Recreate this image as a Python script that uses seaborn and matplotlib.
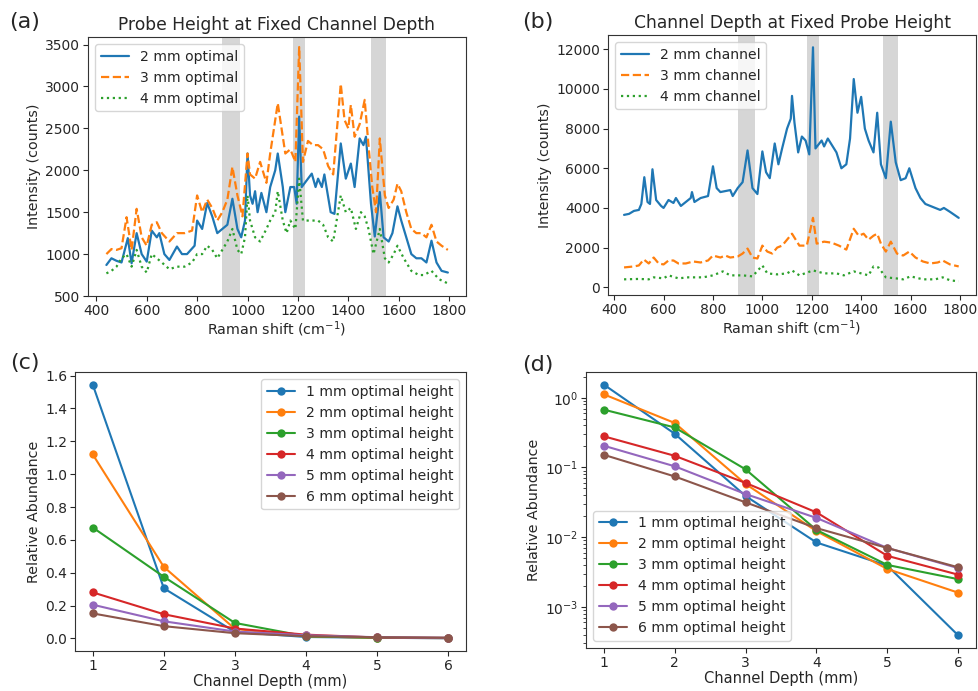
import matplotlib
matplotlib.use("Agg")
import matplotlib.pyplot as plt
import seaborn as sns
import pandas as pd
import numpy as np

# ---------------- Panel (a): probe height at fixed channel depth ----------------
a_x_2mm = [440, 460, 480, 500, 525, 540, 560, 580, 600, 620, 640, 650, 670, 690, 720, 740, 760, 790,
           800, 820, 840, 860, 880, 900, 920, 940, 960, 975, 990, 1000, 1010, 1020, 1030, 1040, 1055,
           1075, 1090, 1110, 1120, 1140, 1150, 1170, 1185, 1195, 1205, 1215, 1240, 1255, 1270, 1280,
           1295, 1305, 1330, 1345, 1370, 1390, 1410, 1425, 1445, 1460, 1470, 1490, 1505, 1525, 1540,
           1560, 1575, 1595, 1610, 1630, 1650, 1670, 1690, 1710, 1730, 1750, 1770, 1795]
a_y_2mm = [870, 950, 920, 900, 1190, 890, 1250, 1000, 910, 1280, 1200, 1250, 1000, 930, 1090, 1000, 1000, 1100,
           1400, 1300, 1610, 1450, 1250, 1300, 1350, 1660, 1300, 1200, 1400, 2200, 1700, 1600, 1750, 1500, 1730,
           1500, 1800, 2000, 2200, 1800, 1500, 1800, 1800, 1600, 2640, 1800, 1900, 1960, 1800, 1900,
           1800, 1950, 1500, 1480, 2320, 1900, 2080, 1800, 2380, 2300, 2400, 1600, 1210, 1740, 1200,
           1150, 1250, 1570, 1400, 1200, 1000, 950, 950, 900, 1160, 900, 800, 780]

a_x_3mm = [440, 460, 480, 500, 520, 540, 560, 580, 600, 620, 640, 660, 690, 720, 750, 780, 800, 820, 840,
           860, 880, 900, 920, 940, 960, 980, 1000, 1010, 1030, 1050, 1075, 1090, 1105, 1120, 1135, 1150,
           1170, 1190, 1205, 1220, 1240, 1260, 1280, 1300, 1320, 1340, 1370, 1385, 1400, 1410, 1425,
           1445, 1465, 1480, 1495, 1510, 1525, 1545, 1560, 1580, 1595, 1610, 1630, 1650, 1670, 1690,
           1710, 1730, 1750, 1770, 1795]
a_y_3mm = [1000, 1060, 1050, 1070, 1440, 1050, 1540, 1200, 1100, 1350, 1380, 1250, 1150, 1250, 1250, 1280, 1700, 1500, 1650,
           1550, 1400, 1500, 1650, 2040, 1700, 1450, 2200, 1950, 1900, 2100, 1850, 2200, 2500, 2800, 2500, 2200,
           2250, 2100, 3470, 2100, 2350, 2300, 2300, 2250, 2050, 1950, 3030, 2600, 2500, 2780, 2400,
           2550, 2840, 2300, 1800, 1500, 2380, 1700, 1550, 1650, 1840, 1750, 1500, 1300, 1250, 1250,
           1200, 1350, 1150, 1100, 1050]

a_x_4mm = [440, 460, 480, 500, 520, 540, 560, 580, 600, 620, 640, 660, 690, 720, 750, 780, 800, 820, 840,
           860, 880, 900, 920, 940, 960, 975, 990, 1000, 1010, 1030, 1050, 1075, 1090, 1110, 1120, 1140,
           1155, 1170, 1190, 1205, 1220, 1250, 1280, 1300, 1320, 1340, 1370, 1390, 1410, 1430, 1450,
           1465, 1480, 1500, 1525, 1545, 1560, 1580, 1595, 1620, 1650, 1680, 1700, 1730, 1760, 1795]
a_y_4mm = [770, 800, 850, 950, 1000, 850, 1050, 850, 780, 1000, 950, 900, 820, 850, 850, 900, 1000, 1000, 1100,
           1050, 950, 1050, 1150, 1300, 1050, 1000, 1200, 1700, 1400, 1200, 1150, 1300, 1400, 1500, 1750, 1400,
           1250, 1400, 1300, 1900, 1400, 1400, 1400, 1350, 1200, 1150, 1700, 1500, 1550, 1300, 1500,
           1450, 1300, 1000, 1300, 950, 900, 1000, 1100, 950, 800, 750, 750, 800, 700, 650]

# ---------------- Panel (b): channel depth at fixed probe height ----------------
b_x_2mm = [440, 460, 480, 500, 510, 522, 535, 545, 555, 570, 590, 600, 620, 640, 650, 670, 690, 710, 715,
           725, 750, 780, 800, 815, 830, 850, 870, 880, 900, 920, 940, 960, 980, 1000, 1015, 1030, 1050,
           1065, 1080, 1100, 1115, 1120, 1130, 1145, 1160, 1175, 1190, 1205, 1215, 1240, 1250, 1265,
           1280, 1300, 1320, 1340, 1355, 1370, 1385, 1400, 1415, 1430, 1450, 1465, 1480, 1500, 1520,
           1540, 1560, 1580, 1595, 1605, 1620, 1640, 1660, 1680, 1700, 1720, 1735, 1760, 1795]
b_y_2mm = [3650, 3700, 3850, 3900, 4200, 5550, 4300, 4200, 5950, 4400, 4100, 4000, 4400, 4250, 4500, 4100, 4300, 4500, 4800,
           4300, 4500, 4600, 6100, 5000, 4800, 4850, 4900, 4600, 5000, 5300, 6900, 5000, 4700, 6850, 5800, 5500, 7250,
           6200, 7000, 8000, 8500, 9650, 8300, 6800, 7600, 7400, 6700, 12100, 7000, 7400, 7100, 7500,
           7200, 6800, 6000, 6200, 7500, 10500, 8800, 9600, 8000, 7400, 6800, 8800, 6200, 5500, 8350,
           6300, 5400, 5500, 6000, 5600, 5000, 4500, 4200, 4100, 4000, 3900, 4000, 3800, 3500]

b_x_3mm = [440, 480, 500, 520, 540, 560, 580, 600, 620, 640, 660, 690, 720, 750, 780, 800, 830, 850, 870,
           900, 920, 940, 960, 980, 1000, 1020, 1040, 1060, 1080, 1100, 1120, 1135, 1150, 1180, 1205,
           1220, 1250, 1280, 1310, 1340, 1370, 1390, 1410, 1430, 1450, 1465, 1480, 1500, 1520, 1545,
           1570, 1595, 1620, 1650, 1680, 1710, 1730, 1760, 1795]
b_y_3mm = [1000, 1050, 1100, 1400, 1200, 1500, 1200, 1150, 1350, 1350, 1200, 1200, 1300, 1250, 1350, 1600, 1500, 1600, 1500,
           1550, 1700, 1950, 1500, 1450, 2100, 1800, 1700, 2000, 2100, 2400, 2700, 2400, 2100, 2100, 3500,
           2200, 2300, 2250, 2100, 1900, 2950, 2600, 2700, 2400, 2600, 2700, 2200, 1800, 2300, 1700,
           1600, 1800, 1500, 1300, 1200, 1250, 1350, 1150, 1050]

b_x_4mm = [440, 500, 540, 560, 600, 620, 660, 700, 760, 800, 840, 870, 920, 960, 1000, 1020, 1060, 1100,
           1120, 1150, 1205, 1250, 1300, 1330, 1370, 1400, 1430, 1450, 1470, 1500, 1540, 1570, 1600,
           1650, 1700, 1730, 1760, 1795]
b_y_4mm = [400, 420, 400, 500, 450, 600, 450, 500, 500, 600, 800, 600, 600, 550, 1100, 700, 650, 700,
           850, 600, 850, 700, 700, 600, 800, 700, 600, 1050, 1000, 500, 450, 400, 550,
           400, 400, 500, 350, 300]

shade_lo = [900, 1180, 1490]
shade_hi = [970, 1230, 1550]

# ---------------- Panels (c)/(d): relative abundance ----------------
depths = [1, 2, 3, 4, 5, 6]
heights = ["1 mm optimal height", "2 mm optimal height", "3 mm optimal height",
           "4 mm optimal height", "5 mm optimal height", "6 mm optimal height"]
ab_1mm = [1.545, 0.305, 0.039, 0.0084, 0.0039, 0.00039]
ab_2mm = [1.12, 0.435, 0.058, 0.0122, 0.0035, 0.0016]
ab_3mm = [0.675, 0.375, 0.094, 0.0127, 0.0040, 0.0025]
ab_4mm = [0.28, 0.147, 0.060, 0.0227, 0.0054, 0.0029]
ab_5mm = [0.205, 0.104, 0.0416, 0.0189, 0.0070, 0.0036]
ab_6mm = [0.152, 0.0744, 0.0316, 0.0135, 0.0070, 0.0037]

sns.set_style("ticks")
plt.rcParams['font.family'] = ['DejaVu Sans']
plt.rcParams['axes.edgecolor'] = '#333333'

W, H = 979, 691
fig = plt.figure(figsize=(W / 100, H / 100), dpi=100)

def box(l, t, r, b):
    return [l / W, 1 - b / H, (r - l) / W, (b - t) / H]

ax_a = fig.add_axes(box(88, 37, 466, 296))
ax_b = fig.add_axes(box(608, 35, 976, 295))
ax_c = fig.add_axes(box(75, 372, 466, 651))
ax_d = fig.add_axes(box(586, 372, 976, 648))

pal = sns.color_palette("tab10")

def spectra(ax, series, title, xlim, ylim):
    for lo, hi in zip(shade_lo, shade_hi):
        ax.axvspan(lo, hi, color='#cccccc', alpha=0.8, lw=0, zorder=0)
    for (xs, ys, lab, col, ls) in series:
        sns.lineplot(x=xs, y=ys, ax=ax, color=col, linestyle=ls, label=lab, sort=False,
                     estimator=None, linewidth=1.6)
    ax.set_xlim(*xlim)
    ax.set_ylim(*ylim)
    ax.set_title(title, fontsize=12.3, pad=5)
    ax.set_xlabel("Raman shift (cm$^{-1}$)", fontsize=10.3, labelpad=1)
    ax.set_ylabel("Intensity (counts)", fontsize=10.3, labelpad=3)
    ax.set_xticks([400, 600, 800, 1000, 1200, 1400, 1600, 1800])
    ax.tick_params(labelsize=10, pad=2)
    ax.legend(loc='upper left', fontsize=10.1, framealpha=0.8)

spectra(ax_a, [(a_x_2mm, a_y_2mm, "2 mm optimal", pal[0], '-'),
               (a_x_3mm, a_y_3mm, "3 mm optimal", pal[1], '--'),
               (a_x_4mm, a_y_4mm, "4 mm optimal", pal[2], ':')],
        "Probe Height at Fixed Channel Depth", (367, 1867), (500, 3590))
ax_a.set_yticks([500, 1000, 1500, 2000, 2500, 3000, 3500])

spectra(ax_b, [(b_x_2mm, b_y_2mm, "2 mm channel", pal[0], '-'),
               (b_x_3mm, b_y_3mm, "3 mm channel", pal[1], '--'),
               (b_x_4mm, b_y_4mm, "4 mm channel", pal[2], ':')],
        "Channel Depth at Fixed Probe Height", (375, 1865), (-390, 12720))
ax_b.set_yticks([0, 2000, 4000, 6000, 8000, 10000, 12000])

rows = []
for h, vals in zip(heights, [ab_1mm, ab_2mm, ab_3mm, ab_4mm, ab_5mm, ab_6mm]):
    for d, v in zip(depths, vals):
        rows.append({"depth": d, "abund": v, "height": h})
df = pd.DataFrame(rows)

for ax, loc in [(ax_c, 'upper right'), (ax_d, 'lower left')]:
    sns.lineplot(data=df, x="depth", y="abund", hue="height", palette=pal[:6], marker='o',
                 markersize=6, markeredgewidth=0, linewidth=1.5, ax=ax)
    ax.set_xlabel("Channel Depth (mm)", fontsize=10.5, labelpad=1)
    ax.set_ylabel("Relative Abundance", fontsize=10.3, labelpad=3)
    ax.set_xticks(depths)
    ax.tick_params(labelsize=10, pad=2)
    ax.legend(loc=loc, fontsize=10.1, title=None, framealpha=0.8)

ax_d.set_yscale('log')

for lab, x, y in [("(a)", 9, 22), ("(b)", 522, 22), ("(c)", 10, 363), ("(d)", 522, 365)]:
    fig.text(x / W, 1 - y / H, lab, fontsize=16, ha='left', va='center')

fig.savefig("out.png", dpi=100)
